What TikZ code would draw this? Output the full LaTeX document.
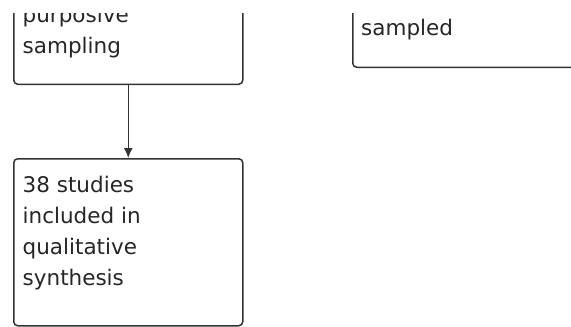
\documentclass[tikz,border=0pt]{standalone}
\usepackage{fontspec}
\setmainfont{DejaVu Sans}
\usetikzlibrary{positioning,arrows.meta}

\tikzset{
  stage/.style={draw=black!80, line width=1.5pt, rounded corners=4pt,
    minimum width=229pt, inner sep=0pt},
  stagetext/.style={anchor=base west, align=left, inner sep=0pt,
    text=black!85, font=\fontsize{21.5pt}{31pt}\selectfont},
}

\begin{document}
\begin{tikzpicture}[x=1pt,y=-1pt]
  \useasboundingbox (0,0) rectangle (571,327);
  \clip (0,13) rectangle (571,327);

  % Define nodes
  \node[stage, minimum height=130pt, anchor=south west] (purp) at (13,85) {};
  \node[stage, minimum height=167pt, below=73pt of purp] (incl) {};
  \node[stage, minimum width=260pt, minimum height=110pt, anchor=south west] (samp) at (352,68) {};

  % Texts (anchored at the last line)
  \node[stagetext] (purptxt) at (22.5,53) {purposive\\sampling};
  \node[stagetext] (samptxt) at (361,35) {sampled};
  \node[stagetext] (incltxt) at (22.5,285.5) {38 studies\\included in\\qualitative\\synthesis};

  % Connect the nodes
  \draw[-{Latex[length=10pt,width=9pt]}, draw=black!80, line width=1.5pt] (purp) -- (incl);
\end{tikzpicture}
\end{document}
